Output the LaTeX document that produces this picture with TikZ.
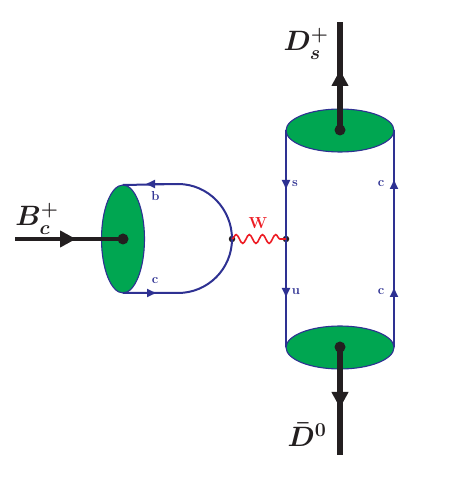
\documentclass[tikz,border=0pt]{standalone}
\usepackage{fix-cm}
\usepackage{amsmath, amssymb}
\usetikzlibrary{arrows.meta,shapes.geometric,decorations.pathmorphing}
\definecolor{blobgreen}{RGB}{0,166,81}
\definecolor{quarkblue}{RGB}{46,49,146}
\definecolor{wred}{RGB}{237,28,36}
\definecolor{mesonblack}{RGB}{35,31,32}
\tikzset{
  blob/.style={draw=quarkblue, line width=1.1pt, fill=blobgreen, ellipse, inner sep=0pt, outer sep=0pt},
  mesonline/.style={mesonblack, line width=5.2pt},
  mesonarrow/.style={mesonblack, line width=5.2pt, -{Triangle[length=16pt,width=16pt]}},
  quarkline/.style={quarkblue, line width=2pt},
  quarkarrow/.style={quarkblue, line width=2pt, -{Triangle[length=9pt,width=8pt]}},
  bigdot/.style={circle, fill=mesonblack, minimum size=11pt, inner sep=0pt},
  smalldot/.style={circle, fill=mesonblack, minimum size=6.5pt, inner sep=0pt},
  quarklabel/.style={text=quarkblue, font=\fontsize{13}{15}\selectfont\bfseries},
  mesonlabel/.style={text=mesonblack, font=\fontsize{28}{32}\selectfont\boldmath}
}
\begin{document}
\begin{tikzpicture}[x=1pt,y=1pt]
  \useasboundingbox (0,0) rectangle (462,491);
  % blobs
  \node[blob, minimum width=43pt, minimum height=108pt] (bc) at (123,252) {};
  \node[blob, minimum width=108pt, minimum height=43pt] (ds) at (340,360.5) {};
  \node[blob, minimum width=108pt, minimum height=43pt] (dz) at (340,143.5) {};
  % vertices
  \node[smalldot] (vl) at (232,252) {};
  \node[smalldot] (vr) at (286,252) {};
  \node[bigdot] (bcdot) at (123,252) {};
  \node[bigdot] (dsdot) at (340,361) {};
  \node[bigdot] (dzdot) at (340,144) {};
  % end points and arrow tips
  \coordinate (bcin) at (15,252);
  \coordinate (bctip) at (76,252);
  \coordinate (dsout) at (340,469);
  \coordinate (dstip) at (340,421);
  \coordinate (dzout) at (340,36);
  \coordinate (dztip) at (340,83);
  \coordinate (btip) at (146,307);
  \coordinate (bstart) at (178,307);
  \coordinate (cstart) at (178,198);
  \coordinate (ctip) at (156,198);
  \coordinate (stip) at (286,302);
  \coordinate (utip) at (286,194);
  \coordinate (c1tip) at (394,311);
  \coordinate (c2tip) at (394,203);
  % spectator and decay quarks
  \draw[quarkline] (bc.north) -- (bstart) to[out=0,in=90] (vl.center) to[out=-90,in=0] (cstart) -- (bc.south);
  \draw[quarkarrow] (bstart) -- (btip);
  \draw[quarkarrow] (bc.south) -- (ctip);
  \draw[quarkline] (ds.west) -- (dz.west);
  \draw[quarkline] (ds.east) -- (dz.east);
  \draw[quarkarrow] (vr.center) -- (utip);
  \draw[quarkarrow] (ds.west) -- (stip);
  \draw[quarkarrow] (dz.east) -- (c2tip);
  \draw[quarkarrow] (dz.east) -- (c1tip);
  % W boson
  \draw[wred, line width=1.6pt, decorate, decoration={snake, amplitude=4.4pt, segment length=13.2pt}] (vl.center) -- (vr.center);
  % mesons
  \draw[mesonline, line width=4.6pt] (bcin) -- (bcdot.center);
  \draw[mesonarrow, line width=4.6pt] (bcin) -- (bctip);
  \draw[mesonline] (dsdot.center) -- (dsout);
  \draw[mesonarrow] (dsdot.center) -- (dstip);
  \draw[mesonline] (dzdot.center) -- (dzout);
  \draw[mesonarrow] (dzdot.center) -- (dztip);
  % labels
  \node[mesonlabel] (bclabel) at (37,272) {$B_c^+$};
  \node[mesonlabel] (dslabel) at (306,447) {$D_s^+$};
  \node[mesonlabel] (dzlabel) at (307,56) {$\bar{D}^0$};
  \node[quarklabel] (blabel) at (155.5,295) {b};
  \node[quarklabel] (clabel) at (155,210) {c};
  \node[quarklabel] (slabel) at (295,307) {s};
  \node[quarklabel] (ulabel) at (296,199) {u};
  \node[quarklabel] (c1label) at (381,307) {c};
  \node[quarklabel] (c2label) at (381,199) {c};
  \node[text=wred, font=\fontsize{16}{18}\selectfont\bfseries] (wlabel) at (258,268) {W};
\end{tikzpicture}
\end{document}
